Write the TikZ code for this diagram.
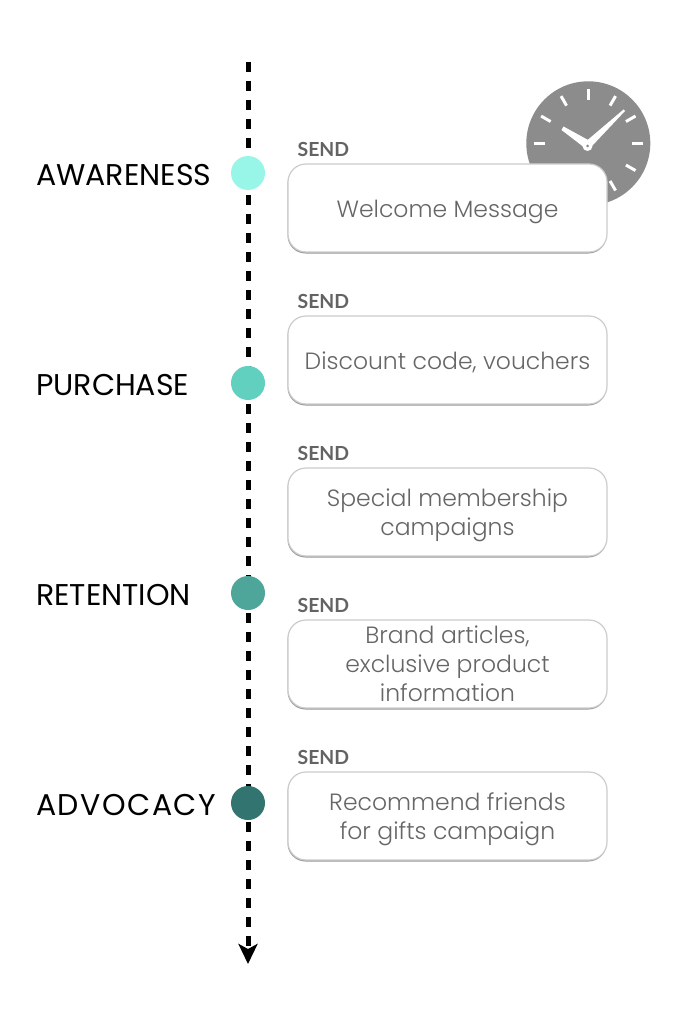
\documentclass[tikz,border=0pt]{standalone}
\usepackage{xcolor}
\usepackage{fontspec}
\setmainfont{Poppins}[UprightFont=* Light]
\newfontfamily\stagefont{Poppins}
\newfontfamily\sendfont{Lato}
\usetikzlibrary{positioning, arrows.meta, shadows, calc}
\definecolor{clockgrey}{HTML}{8C8C8C}
\definecolor{textgrey}{HTML}{666666}
\definecolor{sendgrey}{HTML}{636363}
\tikzset{
    msgbox/.style={draw=black!20, line width=1.2pt, rounded corners=18pt, fill=white, minimum width=319pt, minimum height=88pt, align=center, inner sep=0pt, text=textgrey, font=\fontsize{23.5}{29}\selectfont, text depth=5pt, execute at begin node={\rule{0pt}{23.5pt}}, drop shadow={shadow xshift=-0.5pt, shadow yshift=-1.5pt, opacity=0.4, fill=black}},
    msglines/.style={text depth=-1pt},
    sendlabel/.style={text=sendgrey, inner sep=0pt, font=\sendfont\bfseries\fontsize{19.4}{24}\selectfont},
    stagelabel/.style={text=black, inner sep=0pt, anchor=west, font=\stagefont\fontsize{30}{36}\selectfont},
    stagedot/.style={circle, minimum size=34pt, inner sep=0pt},
    clocktick/.style={draw=white, line width=3pt}
}
\begin{document}
\begin{tikzpicture}[x=1pt, y=-1pt]
        \useasboundingbox (0,0) rectangle (683,1024);
        \fill[white] (0,0) rectangle (683,1024);

        % Define the timeline
        \coordinate (top) at (248,62);
        \coordinate (bottom) at (248,964);
        \draw[line width=5pt, dash pattern=on 10pt off 9pt, -{Stealth[length=20pt, width=19pt, inset=5pt]}] (top) -- (bottom);

        % Define the clock
        \node[circle, fill=clockgrey, minimum size=124pt, inner sep=0pt] (clock) at (588.3,143.3) {};
        \foreach \a in {0,30,...,330} {
            \draw[clocktick] ($(clock.center)+(\a:43.5pt)$) -- ($(clock.center)+(\a:54.5pt)$);
        }
        \fill[white] (625,111) -- (623.5,109.5) -- (587,140.5) -- (592,146) -- cycle;
        \fill[white] (561.5,130) -- (563.5,126.5) -- (590,141) -- (585,148) -- cycle;
        \node[circle, fill=white, minimum size=10pt, inner sep=0pt] (hub) at (587.5,146) {};
        \node[circle, fill=clockgrey, minimum size=3pt, inner sep=0pt] (pin) at (587.5,146) {};

        % Define the message boxes
        \node[msgbox] (welcome) at (447.5,208) {Welcome Message};
        \node[msgbox, below=62.8pt of welcome] (discount) {Discount code, vouchers};
        \node[msgbox, msglines, below=62.8pt of discount] (special) {Special membership\\campaigns};
        \node[msgbox, msglines, below=62.8pt of special] (brand) {Brand articles,\\exclusive product\\information};
        \node[msgbox, msglines, below=62.8pt of brand] (recommend) {Recommend friends\\for gifts campaign};

        % Define the send labels
        \foreach \b/\s in {welcome/sendA, discount/sendB, special/sendC, brand/sendD, recommend/sendE} {
            \node[sendlabel, anchor=base west] (\s) at ([xshift=10pt, yshift=6.5pt]\b.north west) {SEND};
        }

        % Define the stages
        \node[stagedot, fill={rgb,255:red,152;green,246;blue,232}] (awareness) at (248,173) {};
        \node[stagedot, fill={rgb,255:red,98;green,208;blue,190}] (purchase) at (248,383) {};
        \node[stagedot, fill={rgb,255:red,78;green,166;blue,155}] (retention) at (248,593) {};
        \node[stagedot, fill={rgb,255:red,50;green,117;blue,112}] (advocacy) at (248,803) {};

        \node[stagelabel] (awarenesslabel) at (36,175) {AWARENESS};
        \node[stagelabel] (purchaselabel) at (36,385) {PURCHASE};
        \node[stagelabel] (retentionlabel) at (36,595) {RETENTION};
        \node[stagelabel] (advocacylabel) at (36,805) {\addfontfeature{LetterSpace=5}ADVOCACY};
    \end{tikzpicture}
\end{document}
